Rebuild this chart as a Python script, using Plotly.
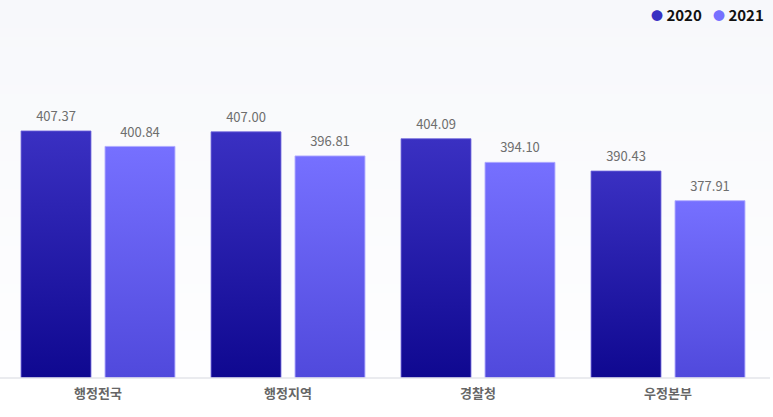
import plotly.graph_objects as go

categories = ["행정전국", "행정지역", "경찰청", "우정본부"]
series_names = ["2020", "2021"]
values_2020 = [407.37, 407.00, 404.09, 390.43]
values_2021 = [400.84, 396.81, 394.10, 377.91]

W, H = 773, 417
ML, MR, MT, MB = 3, 10, 40, 39
PW = W - ML - MR
Y_MIN, Y_MAX = 303, 445.8

BAR_W = 0.368
OFFSETS = [-0.221, 0.221]
GRAD = [
    ["#0f0890", "#3a30c2"],
    ["#5049dc", "#7670ff"],
]
EDGE = ["rgba(110,100,220,0.8)", "rgba(175,170,255,0.9)"]
LEGEND_COL = ["#3a30c2", "#7670ff"]
LEGEND_X_PX = [649, 711]

fig = go.Figure()

# background gradient bands (decorative)
n_bands = 40
plot_h = H - MT - MB
top_paper = (H - MB) / plot_h
c0 = (254, 254, 255)
c1 = (247, 248, 251)
for k in range(n_bands):
    t = k / (n_bands - 1)
    col = tuple(round(c0[j] + (c1[j] - c0[j]) * t) for j in range(3))
    fig.add_shape(type="rect", xref="paper", yref="paper",
                  x0=-0.01, x1=1.02,
                  y0=top_paper * k / n_bands, y1=top_paper * (k + 1) / n_bands + 0.002,
                  fillcolor="rgb(%d,%d,%d)" % col, line_width=0, layer="below")

series_vals = [values_2020, values_2021]
for s, vals in enumerate(series_vals):
    for i, v in enumerate(vals):
        xc = i + OFFSETS[s]
        x0, x1 = xc - BAR_W / 2, xc + BAR_W / 2
        fig.add_trace(go.Scatter(
            x=[x0, x1, x1, x0, x0], y=[Y_MIN, Y_MIN, v, v, Y_MIN],
            mode="lines", fill="toself",
            fillgradient=dict(type="vertical", colorscale=[[0, GRAD[s][0]], [1, GRAD[s][1]]]),
            line=dict(color=EDGE[s], width=1),
            name=series_names[s], legendgroup=series_names[s],
            hoverinfo="skip", showlegend=False,
        ))
    fig.add_trace(go.Scatter(
        x=[i + OFFSETS[s] for i in range(len(vals))], y=vals,
        mode="markers+text", text=["%.2f" % v for v in vals],
        textposition="top center",
        marker=dict(size=9, opacity=0),
        textfont=dict(family="Noto Sans CJK KR", size=13, color="#6e6e6e"),
        hoverinfo="skip", showlegend=False,
    ))
    # legend entry as annotation
    fig.add_annotation(
        xref="paper", yref="paper",
        x=(LEGEND_X_PX[s] - ML) / PW, y=1 + (MT - 15) / plot_h,
        xanchor="left", yanchor="middle", showarrow=False,
        text="<span style='color:%s;font-size:12px'>●</span> <b>%s</b>" % (LEGEND_COL[s], series_names[s]),
        font=dict(family="Noto Sans CJK KR", size=15, color="#111111"),
    )

# axis baseline
fig.add_shape(type="line", xref="paper", yref="paper",
              x0=-ML / PW, x1=(W - 3 - ML) / PW, y0=0, y1=0,
              line=dict(color="#e3e5ea", width=1.5), layer="above")

fig.update_layout(
    width=W, height=H,
    margin=dict(l=ML, r=MR, t=MT, b=MB, autoexpand=False),
    paper_bgcolor="white", plot_bgcolor="rgba(0,0,0,0)",
    font=dict(family="Noto Sans CJK KR"),
    showlegend=False,
    hovermode=False,
    xaxis=dict(range=[-0.5, 3.5], tickvals=list(range(len(categories))), ticktext=categories,
               showgrid=False, zeroline=False, showline=False, ticks="", automargin=False,
               tickfont=dict(family="Noto Sans CJK KR", size=13, color="#666666", weight="bold"),
               ticklabelstandoff=6, fixedrange=True),
    yaxis=dict(range=[Y_MIN, Y_MAX], visible=False, fixedrange=True, automargin=False),
)

fig.write_html("out.html", config={"displayModeBar": False},
               post_script="document.body.style.margin='0';document.body.style.overflow='hidden';")
